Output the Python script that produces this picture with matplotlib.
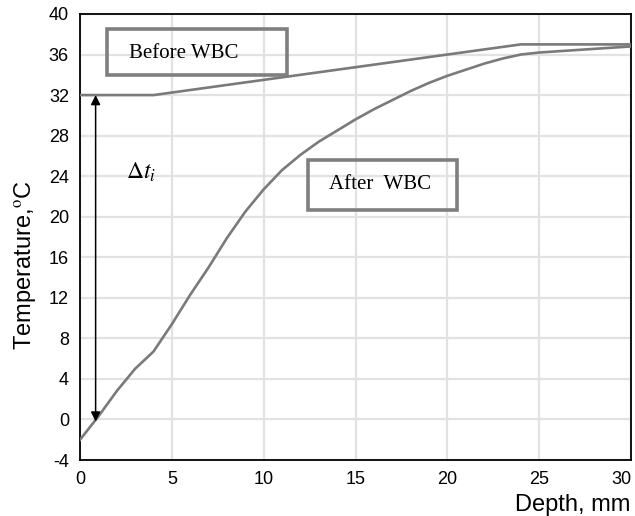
import matplotlib
matplotlib.use("Agg")
import matplotlib.pyplot as plt
from matplotlib.patches import Rectangle

plt.rcParams["font.family"] = ["Liberation Sans", "DejaVu Sans"]
plt.rcParams["mathtext.fontset"] = "stix"
plt.rcParams["axes.unicode_minus"] = False

# curves
depth_before = [0, 4, 24, 30]
temp_before = [32, 32, 37, 37]

depth_after = [0, 1, 2, 3, 4, 5, 6, 7, 8, 9, 10, 11, 12, 13, 14, 15, 16, 17, 18,
               19, 20, 21, 22, 23, 24, 25, 30]
temp_after = [-2.0, 0.3, 2.8, 5.0, 6.7, 9.4, 12.3, 15.0, 17.9, 20.5, 22.7, 24.6,
              26.1, 27.4, 28.5, 29.6, 30.6, 31.5, 32.4, 33.2, 33.9, 34.5, 35.1,
              35.6, 36.0, 36.2, 36.8]

xticks = [0, 5, 10, 15, 20, 25, 30]
yticks = [-4, 0, 4, 8, 12, 16, 20, 24, 28, 32, 36, 40]

fig = plt.figure(figsize=(6.35, 5.16), dpi=100)
ax = fig.add_axes([0.126, 0.1085, 0.8677, 0.8644])

ax.plot(depth_before, temp_before, color="#7a7a7a", lw=1.9, zorder=3)
ax.plot(depth_after, temp_after, color="#7a7a7a", lw=1.9, zorder=3)

# delta t arrow
ax.annotate("", xy=(0.85, 32), xytext=(0.85, -0.2),
            arrowprops=dict(arrowstyle="<|-|>", color="black", lw=1.1,
                            mutation_scale=14, shrinkA=0, shrinkB=0), zorder=4)
ax.text(3.3, 24.4, r"$\mathit{\Delta t_i}$", fontsize=17, ha="center", va="center")

# label boxes (no fill, grid shows through)
ax.add_patch(Rectangle((1.45, 34.0), 9.8, 4.5, facecolor="none",
                       edgecolor="#7f7f7f", lw=2.6, zorder=5))
ax.text(5.66, 36.15, "Before WBC", family="Liberation Serif", fontsize=15,
        ha="center", va="center", zorder=6)
ax.add_patch(Rectangle((12.4, 20.7), 8.1, 4.9, facecolor="none",
                       edgecolor="#7f7f7f", lw=2.6, zorder=5))
ax.text(16.33, 23.2, "After  WBC", family="Liberation Serif", fontsize=15,
        ha="center", va="center", zorder=6)

ax.set_xlim(0, 30)
ax.set_ylim(-4, 40)
ax.set_xticks(xticks)
ax.set_yticks(yticks)
ax.tick_params(length=0, labelsize=13, pad=8)
ax.get_xticklabels()[-1].set_horizontalalignment("right")
ax.grid(True, color="#e2e2e2", lw=1.6)
ax.set_axisbelow(True)
for s in ax.spines.values():
    s.set_linewidth(1.3)

fig.text(25 / 635, 0.486, "Temperature,$^{\\rm o}$C", fontsize=17,
         rotation=90, ha="center", va="center")
fig.text(515 / 635, 0.042, "Depth, mm", fontsize=17, ha="left", va="top")

fig.savefig("out.png", dpi=100)
